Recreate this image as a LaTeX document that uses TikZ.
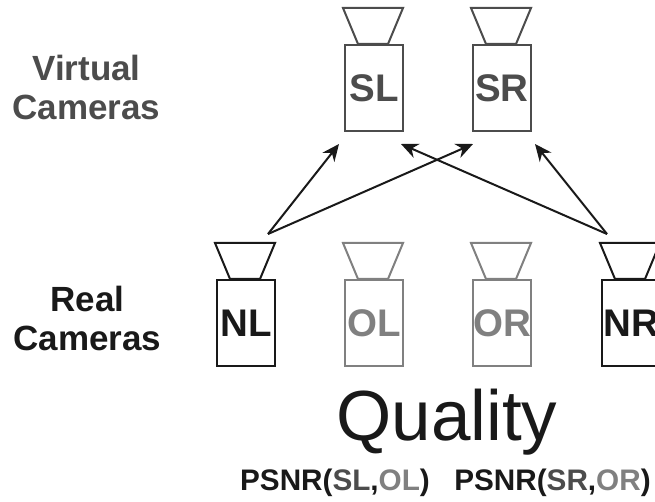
\documentclass[tikz,border=0pt]{standalone}
\usepackage{fontspec}
\setmainfont{Liberation Sans}
\usetikzlibrary{arrows.meta}
\definecolor{vgray}{gray}{0.3}
\definecolor{lgray}{gray}{0.5}
\definecolor{tcol}{gray}{0.1}
\tikzset{x=1pt,y=-1pt,
 cambody/.style={draw=#1,line width=2pt,minimum width=58pt,minimum height=86pt,inner sep=0pt,anchor=north west,text=#1,font=\fontsize{38.5}{38.5}\selectfont\bfseries},
 camlens/.style={draw=#1,line width=2pt},
 conn/.style={draw=black!90,line width=2pt,-{Stealth[length=17pt,width=15pt]}},
 lab/.style={font=\fontsize{35}{39}\selectfont\bfseries,text=#1,align=center},
 psnr/.style={font=\fontsize{29.7}{32}\selectfont\bfseries,text=tcol,anchor=base}}
\newcommand{\lens}[3]{\draw[camlens=#3] (#1-30,#2) -- (#1+30,#2) -- (#1+15,#2+36) -- (#1-15,#2+36) -- cycle;}
\begin{document}
\begin{tikzpicture}
\useasboundingbox (0,0) rectangle (655,502);
\lens{373}{8}{vgray}\lens{501}{8}{vgray}
\lens{245}{243}{tcol}\lens{373}{243}{lgray}\lens{501}{243}{lgray}\lens{630}{243}{tcol}
\node[cambody=vgray] (SL) at (344,44) {SL};
\node[cambody=vgray] (SR) at (472,44) {SR};
\node[cambody=tcol] (NL) at (216,279) {NL};
\node[cambody=lgray] (OL) at (344,279) {OL};
\node[cambody=lgray] (OR) at (472,279) {OR};
\node[cambody=tcol] (NR) at (601,279) {NR};
\coordinate (a) at (268,234);
\coordinate (b) at (607,234);
\coordinate (t1) at (339,144);
\coordinate (t2) at (473,144);
\coordinate (t3) at (401,144);
\coordinate (t4) at (535,144);
\draw[conn] (a) -- (t1);
\draw[conn] (a) -- (t2);
\draw[conn] (b) -- (t3);
\draw[conn] (b) -- (t4);
\node[lab=vgray] (v) at (86.5,87) {Virtual\\Cameras};
\node[lab=tcol] (r) at (87.5,318) {Real\\Cameras};
\node[font=\fontsize{71}{71}\selectfont,text=tcol,anchor=base] (q) at (447,440) {Quality};
\node[psnr] (p1) at (335,490) {PSNR({\color{vgray}SL},{\color{lgray}OL})};
\node[psnr] (p2) at (552.5,490) {PSNR({\color{vgray}SR},{\color{lgray}OR})};
\end{tikzpicture}
\end{document}
